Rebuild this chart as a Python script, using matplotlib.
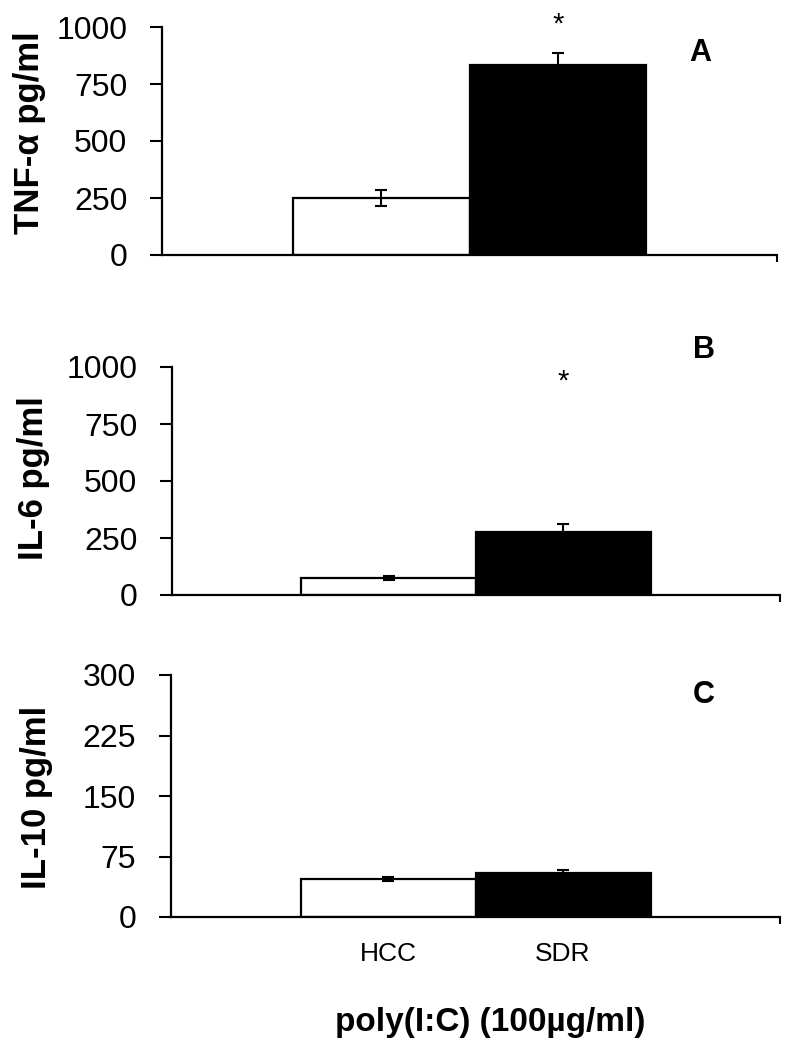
import matplotlib.pyplot as plt
from matplotlib.ticker import FixedLocator

plt.rcParams["font.family"] = ["Liberation Sans", "DejaVu Sans"]

groups = ["HCC", "SDR"]
bar_colors = ["white", "black"]

tnf_mean = [250, 833]
tnf_err = [37, 53]
il6_mean = [75, 276]
il6_err = [9, 35]
il10_mean = [47, 55]
il10_err = [2, 3]

panel_titles = ["A", "B", "C"]
ylabels = ["TNF-\u03b1 pg/ml", "IL-6 pg/ml", "IL-10 pg/ml"]
yticks = [[0, 250, 500, 750, 1000], [0, 250, 500, 750, 1000], [0, 75, 150, 225, 300]]
star_y = [1010, 935, None]
xlabel = "poly(I:C) (100\u00b5g/ml)"

W, H = 795, 1050
fig = plt.figure(figsize=(W / 100, H / 100), dpi=100)


def px_axes(left, right, top, bottom):
    return fig.add_axes([left / W, 1 - bottom / H, (right - left) / W, (bottom - top) / H])


# pixel boxes of each panel: left, right, top (y max), bottom (y = 0)
boxes = [(162, 777, 27, 255), (172, 780, 367, 595), (171, 780, 675, 917)]
# panel label position (axes fraction), y label centre (pixels)
label_pos = [(0.875, 0.885), (0.875, 1.075), (0.875, 0.917)]
ylabel_px = [(30, 133), (33, 478), (37, 797)]

means = [tnf_mean, il6_mean, il10_mean]
errs = [tnf_err, il6_err, il10_err]
xs = [1, 2]
xmin, xmax = -0.24, 3.24

for i in range(3):
    ax = px_axes(*boxes[i])
    ax.bar(xs, means[i], width=1.0, color=bar_colors, edgecolor="black",
           linewidth=1.6, zorder=2)
    ax.errorbar(xs, means[i], yerr=errs[i], fmt="none", ecolor="black",
                elinewidth=1.5, capsize=4.5, capthick=1.5, zorder=3)
    ax.set_xlim(xmin, xmax)
    ax.set_ylim(0, yticks[i][-1])
    ax.set_yticks(yticks[i])
    ax.tick_params(axis="y", labelsize=23, length=9, width=1.5, pad=16)
    for s in ["top", "right"]:
        ax.spines[s].set_visible(False)
    for s in ["left", "bottom"]:
        ax.spines[s].set_linewidth(1.6)
    ax.xaxis.set_minor_locator(FixedLocator([xmax]))
    ax.tick_params(axis="x", which="minor", length=5, width=1.5)
    if i == 2:
        ax.set_xticks(xs)
        ax.set_xticklabels(groups)
        ax.tick_params(axis="x", which="major", length=0, labelsize=19, pad=18)
    else:
        ax.set_xticks([])
    if star_y[i] is not None:
        ax.text(2, star_y[i], "*", ha="center", va="center", fontsize=21,
                clip_on=False)
    ax.text(*label_pos[i], panel_titles[i], transform=ax.transAxes,
            ha="center", va="center", fontsize=22, fontweight="bold")
    fig.text(ylabel_px[i][0] / W, 1 - ylabel_px[i][1] / H, ylabels[i],
             rotation=90, ha="center", va="center", fontsize=25,
             fontweight="bold")

fig.text(490 / W, 1 - 1023 / H, xlabel, ha="center", va="center",
         fontsize=24, fontweight="bold")

fig.savefig("out.png", dpi=100)
